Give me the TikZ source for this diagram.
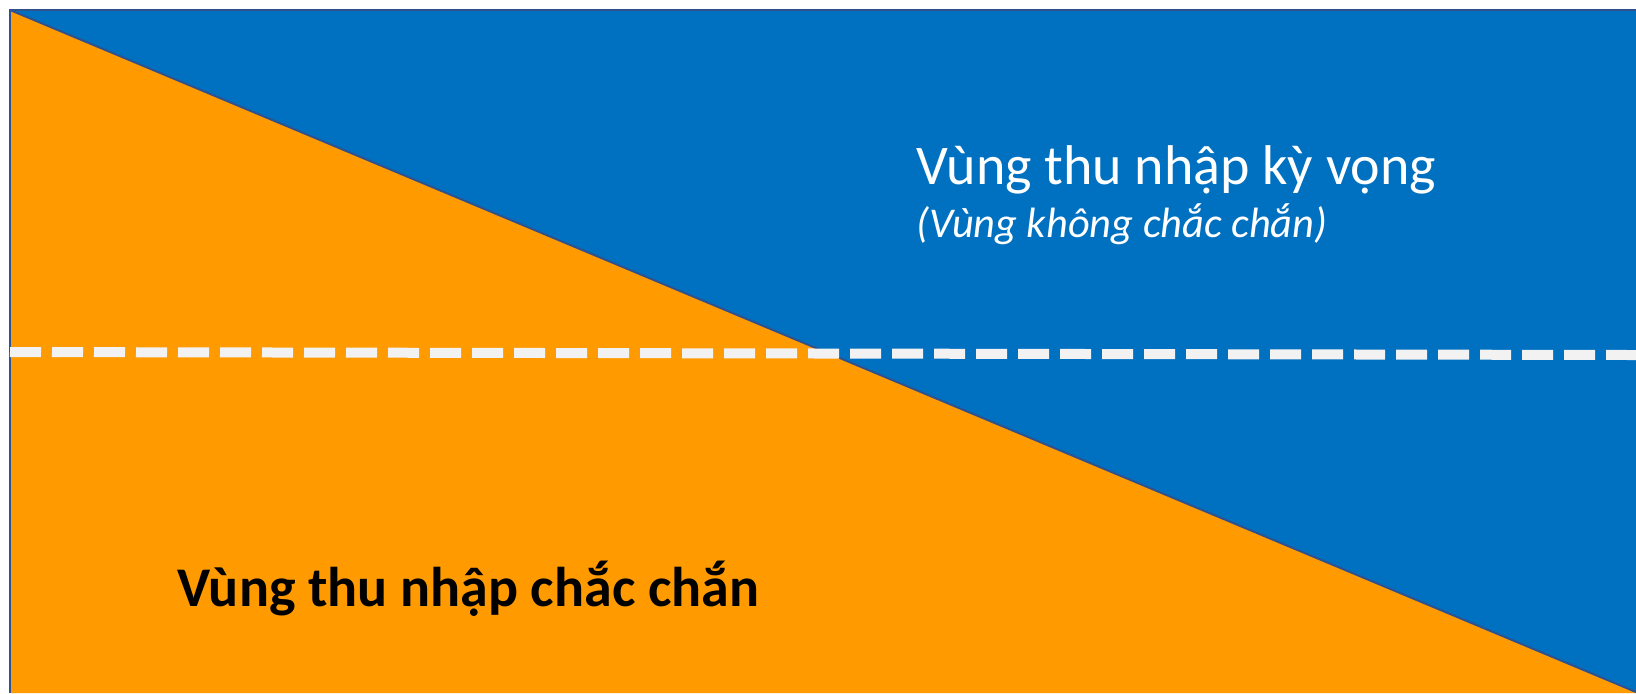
\documentclass[tikz,border=0pt]{standalone}
\usepackage{fontspec}
\setmainfont{Carlito}
\usepackage{tikz}
\usetikzlibrary{positioning}
\definecolor{zoneblue}{HTML}{0070C0}
\definecolor{zoneorange}{HTML}{FF9A00}
\definecolor{edgeblue}{HTML}{2F528F}
\definecolor{splitwhite}{HTML}{F2F2F2}

\begin{document}
\begin{tikzpicture}[x=0.5pt, y=-0.5pt]
  \useasboundingbox (0,0) rectangle (1636,693);
  % regions
  \fill[zoneblue] (10,10) -- (1636,10) -- (1636,693) -- cycle;
  \fill[zoneorange] (10,10) -- (1636,693) -- (10,693) -- cycle;
  \draw[edgeblue, line width=1pt] (10,693) -- (10,10) -- (1636,10);
  \draw[edgeblue, line width=1pt] (10,10) -- (1636,692);
  % threshold line
  \draw[splitwhite, line width=5pt, dash pattern=on 15.5pt off 5.5pt] (10,352) -- (1636,355);
  % labels
  \node[anchor=base west, inner sep=0pt, text=white, font=\fontsize{28}{34}\selectfont] (expect) at (916,184) {Vùng thu nhập kỳ vọng};
  \node[anchor=base west, inner sep=0pt, text=white, font=\fontsize{21.2}{26}\selectfont\itshape] (uncertain) at (916,237) {(Vùng không chắc chắn)};
  \node[anchor=base west, inner sep=0pt, text=black, font=\fontsize{28}{34}\selectfont\bfseries] (certain) at (177,606) {Vùng thu nhập chắc chắn};
\end{tikzpicture}
\end{document}
